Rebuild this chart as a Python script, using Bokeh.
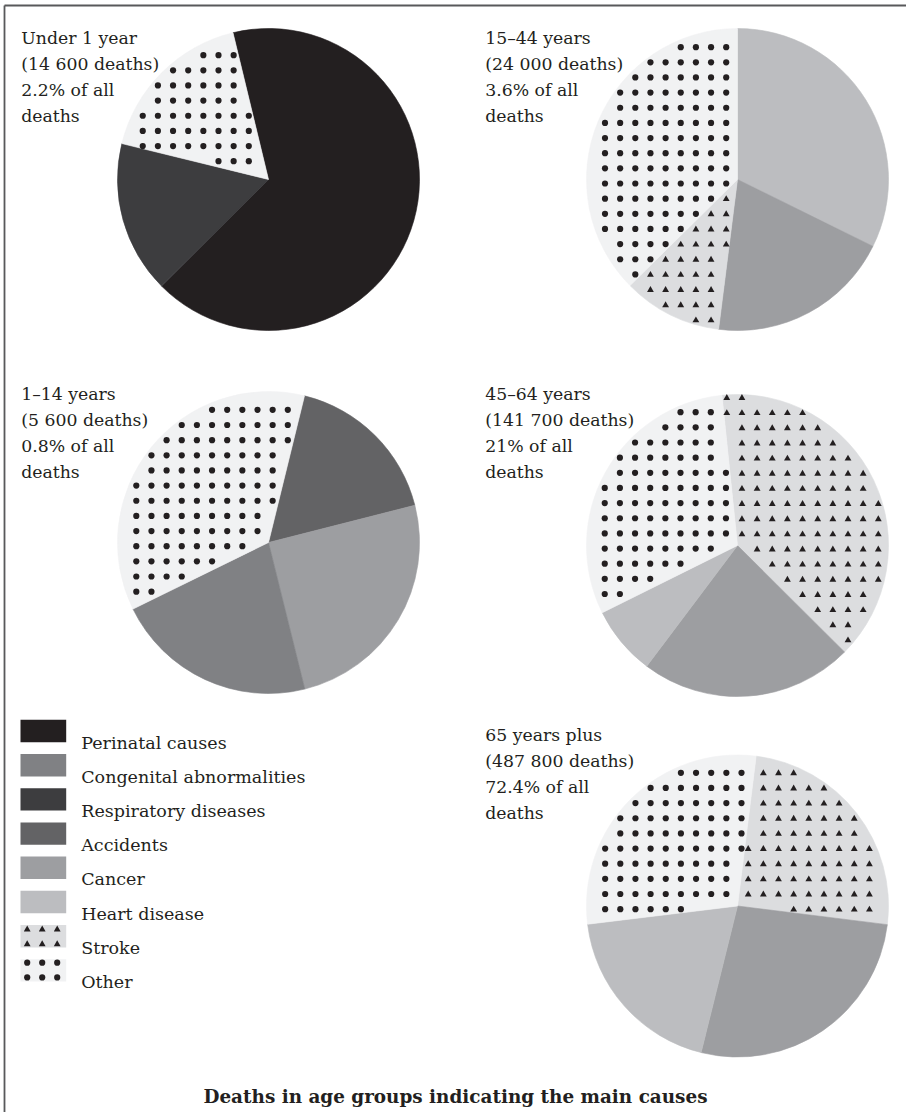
import math
from bokeh.plotting import figure
from bokeh.models import Range1d, ColumnDataSource
from bokeh.core.properties import value
from bokeh.embed import file_html
from bokeh.resources import INLINE

# ---------------- data ----------------
causes = ["Perinatal causes", "Congenital abnormalities", "Respiratory diseases",
          "Accidents", "Cancer", "Heart disease", "Stroke", "Other"]
cause_colors = ["#231f20", "#808184", "#3d3d3f", "#636365",
                "#9d9ea1", "#bcbdc0", "#dcdddf", "#f1f2f3"]
cause_marks = [None, None, None, None, None, None, "triangle", "circle"]

groups = ["Under 1 year", "15–44 years", "1–14 years", "45–64 years", "65 years plus"]
group_deaths = ["14 600", "24 000", "5 600", "141 700", "487 800"]
group_share = ["2.2%", "3.6%", "0.8%", "21%", "72.4%"]

under1_causes = ["Perinatal causes", "Respiratory diseases", "Other"]
under1_pct = [66.3, 16.3, 17.4]
y15_44_causes = ["Heart disease", "Cancer", "Stroke", "Other"]
y15_44_pct = [32.3, 19.7, 10.6, 37.4]
y1_14_causes = ["Accidents", "Cancer", "Congenital abnormalities", "Other"]
y1_14_pct = [17.2, 25.1, 21.6, 36.1]
y45_64_causes = ["Stroke", "Cancer", "Heart disease", "Other"]
y45_64_pct = [39.1, 22.8, 7.4, 30.7]
y65_causes = ["Stroke", "Cancer", "Heart disease", "Other"]
y65_pct = [25.0, 26.9, 19.2, 28.9]

title = "Deaths in age groups indicating the main causes"

# ---------------- layout (page pixels, y downward) ----------------
pie_causes = [under1_causes, y15_44_causes, y1_14_causes, y45_64_causes, y65_causes]
pie_pct = [under1_pct, y15_44_pct, y1_14_pct, y45_64_pct, y65_pct]
pie_cx = [268, 737, 268, 737, 737]
pie_cy = [179, 179, 542, 545, 905.5]
pie_r = 151
pie_start = [-13.6, 0.0, 13.8, -5.9, 7.1]      # degrees clockwise from 12 o'clock
dot_off = [(-4.55, -3.15), (3.85, 4.0), (4.15, 3.7), (3.6, 3.05), (4.0, 3.15)]
tri_off = [(-4.55, -3.15), (3.85, 4.0), (4.15, 3.7), (4.45, 3.5), (-4.45, 3.15)]
GRID = 15.15
DOT_LIMIT = 4.2
tri_limit = [3.0, 3.0, 3.0, 2.5, 4.5]
label_x = [20.7, 484.7, 20.7, 484.7, 484.7]
label_y = [37.3, 37.3, 393.3, 393.3, 734.3]
LINE_H = 26.0

W, H = 906, 1112
TEXT_COLOR = "#231f20"
FONT = "DejaVu Serif"


def Y(ry):
    return H - ry


p = figure(width=W, height=H, x_range=Range1d(0, W), y_range=Range1d(0, H),
           output_backend="svg", toolbar_location=None, min_border=0,
           x_axis_location=None, y_axis_location=None)
p.xgrid.grid_line_color = None
p.ygrid.grid_line_color = None
p.outline_line_color = None
p.background_fill_color = "white"
p.border_fill_color = "white"

# ---------------- wedges ----------------
wx, wy, ws, we, wc = [], [], [], [], []
circ_x, circ_y, tri_x, tri_y = [], [], [], []


def in_slice(theta, a, b):
    t = (theta - a) % 360.0
    return t <= (b - a)


for i in range(len(groups)):
    cx, cy = pie_cx[i], pie_cy[i]
    vals = pie_pct[i]
    tot = sum(vals)
    a = pie_start[i]
    for cause, v in zip(pie_causes[i], vals):
        span = v / tot * 360.0
        b = a + span
        k = causes.index(cause)
        wx.append(cx)
        wy.append(Y(cy))
        ws.append(math.radians(90.0 - a))
        we.append(math.radians(90.0 - b))
        wc.append(cause_colors[k])
        mark = cause_marks[k]
        if mark:
            ox, oy = dot_off[i] if mark == "circle" else tri_off[i]
            lim = DOT_LIMIT if mark == "circle" else tri_limit[i]
            for m in range(-11, 12):
                for n in range(-11, 12):
                    gx = ox + GRID * m
                    gy = oy + GRID * n
                    dx, dyu = gx, -gy
                    d = math.hypot(dx, dyu)
                    if d > pie_r - lim or d < 8:
                        continue
                    th = math.degrees(math.atan2(dx, dyu)) % 360.0
                    if not in_slice(th, a, b):
                        continue
                    da = ((th - a) % 360.0)
                    db = ((b - th) % 360.0)
                    if d * math.sin(math.radians(min(da, 90))) < 2.5:
                        continue
                    if d * math.sin(math.radians(min(db, 90))) < 2.5:
                        continue
                    if mark == "circle":
                        circ_x.append(cx + gx)
                        circ_y.append(Y(cy + gy))
                    else:
                        tri_x.append(cx + gx)
                        tri_y.append(Y(cy + gy + 0.5))
        a = b

wsrc = ColumnDataSource(dict(x=wx, y=wy, s=ws, e=we, c=wc))
p.wedge(x="x", y="y", radius=pie_r, start_angle="s", end_angle="e", direction="clock",
        fill_color="c", line_color="c", line_width=0.6, source=wsrc)

# ---------------- legend ----------------
LEG_X0, LEG_X1 = 20.0, 65.7
LEG_TOP0, LEG_STEP, LEG_H = 719.3, 34.2, 22.4
LEG_TEXT_X, LEG_BASE0 = 80.7, 742.0

lq = dict(left=[], right=[], top=[], bottom=[], c=[])
lt = dict(x=[], y=[], t=[])
for k, cause in enumerate(causes):
    top = LEG_TOP0 + LEG_STEP * k
    lq["left"].append(LEG_X0)
    lq["right"].append(LEG_X1)
    lq["top"].append(Y(top))
    lq["bottom"].append(Y(top + LEG_H))
    lq["c"].append(cause_colors[k])
    lt["x"].append(LEG_TEXT_X)
    lt["y"].append(Y(LEG_BASE0 + LEG_STEP * k))
    lt["t"].append(cause)
    mark = cause_marks[k]
    if mark:
        for dxo in (6.7, 21.7, 36.7):
            for dyo in (3.5, 18.2):
                if mark == "circle":
                    circ_x.append(LEG_X0 + dxo)
                    circ_y.append(Y(top + dyo))
                else:
                    tri_x.append(LEG_X0 + dxo)
                    tri_y.append(Y(top + dyo + 1.0))

p.quad(left="left", right="right", top="top", bottom="bottom", fill_color="c",
       line_color=None, source=ColumnDataSource(lq))
p.text(x="x", y="y", text="t", source=ColumnDataSource(lt), text_font=value(FONT),
       text_font_size="17.5px", text_color=TEXT_COLOR, text_baseline="alphabetic",
       text_align="left")

# ---------------- pattern marks ----------------
p.scatter(x=circ_x, y=circ_y, marker="circle", size=6.2, fill_color="#231f20",
          line_color=None)
p.scatter(x=tri_x, y=tri_y, marker="triangle", size=6.8, fill_color="#231f20",
          line_color=None)

# ---------------- pie labels ----------------
ll = dict(x=[], y=[], t=[])
for i in range(len(groups)):
    lines = [groups[i], "(" + group_deaths[i] + " deaths)", group_share[i] + " of all", "deaths"]
    for j, s in enumerate(lines):
        ll["x"].append(label_x[i])
        ll["y"].append(Y(label_y[i] + LINE_H * j))
        ll["t"].append(s)
p.text(x="x", y="y", text="t", source=ColumnDataSource(ll), text_font=value(FONT),
       text_font_size="17.3px", text_color=TEXT_COLOR, text_baseline="alphabetic",
       text_align="left")

# ---------------- title ----------------
p.text(x=[455], y=[Y(1095.5)], text=[title], text_font=value(FONT),
       text_font_size="18.4px", text_font_style="bold", text_color=TEXT_COLOR,
       text_baseline="alphabetic", text_align="center")

# ---------------- frame (top and left rules) ----------------
p.segment(x0=[4, 4], y0=[Y(5), Y(5)], x1=[W + 5, 4], y1=[Y(5), -5],
          line_color="#58595b", line_width=1.8)

open("out.html", "w").write(file_html(p, INLINE))
